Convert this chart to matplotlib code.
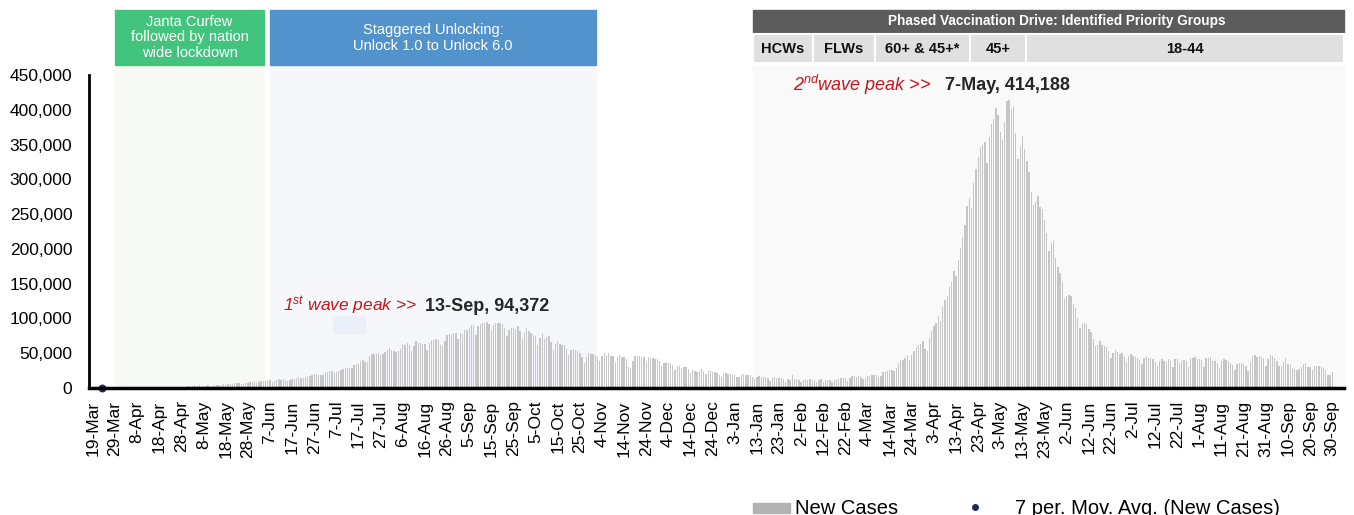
import numpy as np
import pandas as pd
import matplotlib
matplotlib.use('Agg')
import matplotlib.pyplot as plt
from matplotlib.patches import Rectangle
from matplotlib.lines import Line2D
from matplotlib.ticker import FuncFormatter

plt.rcParams['font.family'] = ['Liberation Sans', 'DejaVu Sans']
plt.rcParams['mathtext.fontset'] = 'custom'
plt.rcParams['mathtext.rm'] = 'Liberation Sans:italic'
plt.rcParams['mathtext.it'] = 'Liberation Sans:italic'

# daily new cases, India
start_date = '2020-03-19'
mar_2020 = [27, 58, 78, 69, 94, 74, 86, 73, 153, 136, 120, 187, 309]
apr_2020 = [424, 486, 560, 579, 609, 484, 573, 565, 813, 871, 854, 758, 1243, 1031, 886,
            1061, 922, 1371, 1580, 1239, 1537, 1292, 1667, 1408, 1835, 1607, 1568, 1902, 1705, 1801]
may_2020 = [2396, 2564, 2952, 3656, 2971, 3602, 3344, 3339, 3175, 4311, 3592, 3562, 3726, 3991, 3808,
            4794, 5049, 4630, 6147, 5611, 6198, 6568, 6629, 7113, 6414, 5843, 7293, 7300, 8105, 8336, 8789]
jun_2020 = [7723, 8812, 9633, 9889, 9471, 10438, 10864, 8442, 9981, 10956, 12375, 11393, 12881, 11502, 10667,
            10974, 12881, 13586, 14516, 15413, 14821, 14933, 15968, 16922, 17296, 18552, 19906, 19459, 18522, 18653]
jul_2020 = [19148, 20903, 22771, 24850, 24248, 22252, 22752, 24879, 26506, 27114, 28637, 28701, 28498, 29429, 32695,
            34956, 34884, 38902, 40425, 37148, 37724, 45720, 49310, 48916, 48661, 49931, 47703, 48513, 52123, 55078, 57118]
aug_2020 = [54735, 52972, 52050, 52509, 56282, 62538, 61537, 64399, 62064, 53601, 60963, 66999, 64553, 65002, 63490,
            63489, 55079, 64531, 69652, 68898, 69878, 69239, 61408, 60975, 67151, 75760, 77266, 76472, 78761, 78512, 69921]
sep_2020 = [78357, 78000, 83883, 83341, 86432, 90632, 90802, 75809, 89706, 92000, 93500, 92800, 94372, 92071, 83809,
            90123, 93200, 93100, 93337, 92605, 86961, 75083, 83347, 86508, 86052, 85362, 88600, 82170, 70589, 80472]
oct_2020 = [86821, 81484, 79476, 75829, 74442, 61267, 72049, 78524, 70496, 73272, 74383, 66732, 55342, 63509, 67708,
            63371, 62212, 61871, 55722, 46790, 54044, 55839, 54366, 53370, 50129, 45148, 36470, 43893, 49881, 48648, 48268]
nov_2020 = [46963, 45231, 38310, 46253, 50210, 47638, 50357, 45674, 45903, 38073, 44281, 47905, 44684, 44879, 41100,
            30548, 29163, 38617, 45576, 45882, 46232, 45209, 44059, 37975, 44376, 43082, 43082, 41322, 41810, 38772]
dec_2020 = [31118, 36604, 35551, 36595, 36652, 32981, 26567, 32080, 31521, 29398, 30006, 30254, 27071, 22065, 26382,
            24010, 22890, 25152, 26624, 24337, 19556, 23950, 24712, 23067, 23068, 22273, 18732, 16432, 20549, 21822, 20550]
jan_2021 = [20035, 19079, 18177, 16375, 16505, 18088, 20346, 18139, 18222, 18645, 16311, 12584, 15968, 16946, 15590,
            15158, 15144, 13788, 10064, 13823, 15223, 14545, 14256, 14849, 13203, 9102, 12689, 11666, 18855, 13083, 13052]
feb_2021 = [11427, 8635, 11039, 12899, 11713, 12408, 12059, 11831, 9110, 11067, 12923, 9309, 12143, 12194, 11649,
            9121, 11610, 12881, 13193, 13993, 14264, 14199, 10584, 13742, 16738, 16577, 16488, 16752]
mar_2021 = [15510, 12286, 14989, 17407, 16838, 18327, 18711, 18599, 15388, 17921, 22854, 23285, 24882, 25320, 26291,
            24492, 28903, 35871, 39726, 40953, 43846, 46951, 40715, 47262, 53476, 59118, 62258, 62714, 68020, 56211, 53480]
apr_2021 = [72330, 81466, 89129, 93249, 103558, 96982, 115736, 126789, 131968, 145384, 152879, 168912, 161736, 184372, 200739,
            217353, 234692, 261500, 273810, 259170, 295041, 314835, 332730, 346786, 349691, 352991, 323144, 360960, 379257, 386452]
may_2021 = [401993, 392488, 368147, 357229, 382315, 412262, 414188, 401078, 403738, 366161, 329942, 348421, 362727, 343144, 326098,
            311170, 281386, 263533, 267334, 276110, 259551, 257299, 240842, 222315, 196427, 208921, 211298, 186364, 173790, 165553, 152734]
jun_2021 = [127510, 132788, 134154, 132364, 120529, 114460, 100636, 86498, 92596, 94052, 91702, 84332, 80834, 70421, 60471,
            62224, 67208, 62480, 60753, 58419, 53256, 42640, 50848, 54069, 51667, 48698, 50040, 46148, 37566, 45951]
jul_2021 = [48786, 46617, 44111, 43071, 39796, 34703, 43733, 45892, 43393, 42766, 41506, 37154, 31443, 38792, 41806,
            38949, 38079, 41157, 38164, 30093, 42015, 41383, 35342, 39097, 39742, 39361, 29689, 43654, 43509, 44230, 41649]
aug_2021 = [41831, 40134, 30549, 42625, 42982, 44643, 38628, 39070, 35499, 28204, 38353, 41195, 40120, 38667, 36083,
            32937, 25166, 35178, 36401, 36571, 34457, 30948, 25072, 37593, 46164, 46759, 44658, 45800, 45083, 42909, 30941]
sep_2021 = [41965, 47092, 45352, 42618, 38948, 31222, 31170, 37875, 43263, 34973, 33376, 28591, 27254, 25404, 27176,
            30570, 34403, 35662, 30773, 30256, 26115, 31923, 31382, 31923, 29616, 28326, 26041, 18795, 18870, 23529]

# 7-day moving average series only shows a single point in the chart
mov_avg_day = [4]
mov_avg_val = [0]

new_cases = (mar_2020 + apr_2020 + may_2020 + jun_2020 + jul_2020 + aug_2020 + sep_2020 + oct_2020
             + nov_2020 + dec_2020 + jan_2021 + feb_2021 + mar_2021 + apr_2021 + may_2021 + jun_2021
             + jul_2021 + aug_2021 + sep_2021)
dates = pd.date_range(start_date, periods=len(new_cases), freq='D')
days = np.arange(len(new_cases))
tick_days = days[::10]
tick_labels = [f"{d.day}-{d.strftime('%b')}" for d in dates[::10]]

W, H = 1354, 515
fig = plt.figure(figsize=(W / 100, H / 100), dpi=100)
ax = fig.add_axes([89 / W, 127 / H, (1344 - 89) / W, 313 / H])


def ay(py):
    # pixel row -> axes fraction
    return (388 - py) / 313


# phase shading
ax.axvspan(9.9, 77.3, ymin=0, ymax=ay(66), color='#f7f9f4', zorder=0, clip_on=False)
ax.axvspan(80.0, 227.3, ymin=0, ymax=ay(66), color='#f5f7fb', zorder=0, clip_on=False)
ax.axvspan(298.2, 565.3, ymin=0, ymax=ay(66), color='#f9f9f9', zorder=0, clip_on=False)
ax.add_patch(Rectangle((108.4, ay(333)), 14.5, ay(316) - ay(333), transform=ax.get_xaxis_transform(),
                       color='#ebf0f8', zorder=0.5))

ax.bar(days, new_cases, width=0.62, color='#c6c6c6', edgecolor='none', zorder=2)
ax.scatter(mov_avg_day, mov_avg_val, s=22, color='#1f2a5a', zorder=4, clip_on=False)

# headers
tr = ax.get_xaxis_transform()
hdrs = [(9.9, 77.3, 10, 65, '#43c47d'), (80.0, 227.3, 10, 65, '#5293cc'), (298.2, 565.3, 10, 33, '#5c5c5c')]
for x0, x1, t, b, c in hdrs:
    ax.add_patch(Rectangle((x0, ay(b)), x1 - x0, ay(t) - ay(b), transform=tr, color=c,
                           clip_on=False, zorder=3))
ax.text(43.6, ay(37.5), 'Janta Curfew\nfollowed by nation\nwide lockdown', transform=tr, ha='center',
        va='center', color='white', fontsize=10.5, linespacing=1.15, zorder=5)
ax.text(153.6, ay(38), 'Staggered Unlocking:\nUnlock 1.0 to Unlock 6.0', transform=tr, ha='center',
        va='center', color='white', fontsize=10.5, linespacing=1.15, zorder=5)
ax.text(435.6, ay(21.5), 'Phased Vaccination Drive: Identified Priority Groups', transform=tr, ha='center',
        va='center', color='white', fontsize=9.8, fontweight='bold', zorder=5)

groups = ['HCWs', 'FLWs', '60+ & 45+*', '45+', '18-44']
group_edges = [298.2, 325.3, 353.4, 396.3, 421.6, 565.3]
for i, g in enumerate(groups):
    x0, x1 = group_edges[i], group_edges[i + 1]
    ax.add_patch(Rectangle((x0, ay(63.5)), x1 - x0, ay(34.5) - ay(63.5), transform=tr, facecolor='#e0e0e0',
                           edgecolor='white', linewidth=1.5, clip_on=False, zorder=3))
    ax.text((x0 + x1) / 2, ay(49), g, transform=tr, ha='center', va='center', fontsize=10.5,
            fontweight='bold', color='#111111', zorder=5)

# peak annotations
ax.text(85.9, 119000, r'$1^{st}$ wave peak >>', color='#c4161c', fontsize=12.5, fontstyle='italic',
        va='center', ha='left', zorder=5)
ax.text(150.0, 116500, '13-Sep, 94,372', color='#262626', fontsize=13, fontweight='bold',
        va='center', ha='left', zorder=5)
ax.text(316.3, 435500, r'$2^{nd}$wave peak >>', color='#c4161c', fontsize=13, fontstyle='italic',
        va='center', ha='left', zorder=5)
ax.text(385.0, 435500, '7-May, 414,188', color='#262626', fontsize=13, fontweight='bold',
        va='center', ha='left', zorder=5)

ax.set_xlim(-1.8, 565.3)
ax.set_ylim(0, 450000)
ax.set_yticks(np.arange(0, 450001, 50000))
ax.yaxis.set_major_formatter(FuncFormatter(lambda v, p: f'{int(v):,}'))
ax.set_xticks(tick_days)
ax.set_xticklabels(tick_labels, rotation=90)
ax.tick_params(axis='both', length=0, labelsize=12.5, colors='black')
ax.tick_params(axis='y', pad=12)
ax.tick_params(axis='x', pad=9)
for s in ['top', 'right']:
    ax.spines[s].set_visible(False)
ax.spines['left'].set_linewidth(2)
ax.spines['bottom'].set_linewidth(2.5)
ax.set_facecolor('none')
ax.spines['bottom'].set_zorder(6)

# legend (bottom, partly cut off as in the source)
fig.patches.append(Rectangle((753 / W, (H - 513) / H), 37 / W, 10 / H, transform=fig.transFigure,
                             color='#b3b3b3', figure=fig))
fig.text(795 / W, 1.5 / H, 'New Cases', fontsize=14.5, color='black', va='baseline', ha='left')
fig.add_artist(Line2D([975 / W], [(H - 507) / H], marker='o', markersize=4, color='#1f2a5a',
                      transform=fig.transFigure))
fig.text(1015 / W, 1.5 / H, '7 per. Mov. Avg. (New Cases)', fontsize=14.5, color='black',
         va='baseline', ha='left')

fig.savefig('out.png', dpi=100)
